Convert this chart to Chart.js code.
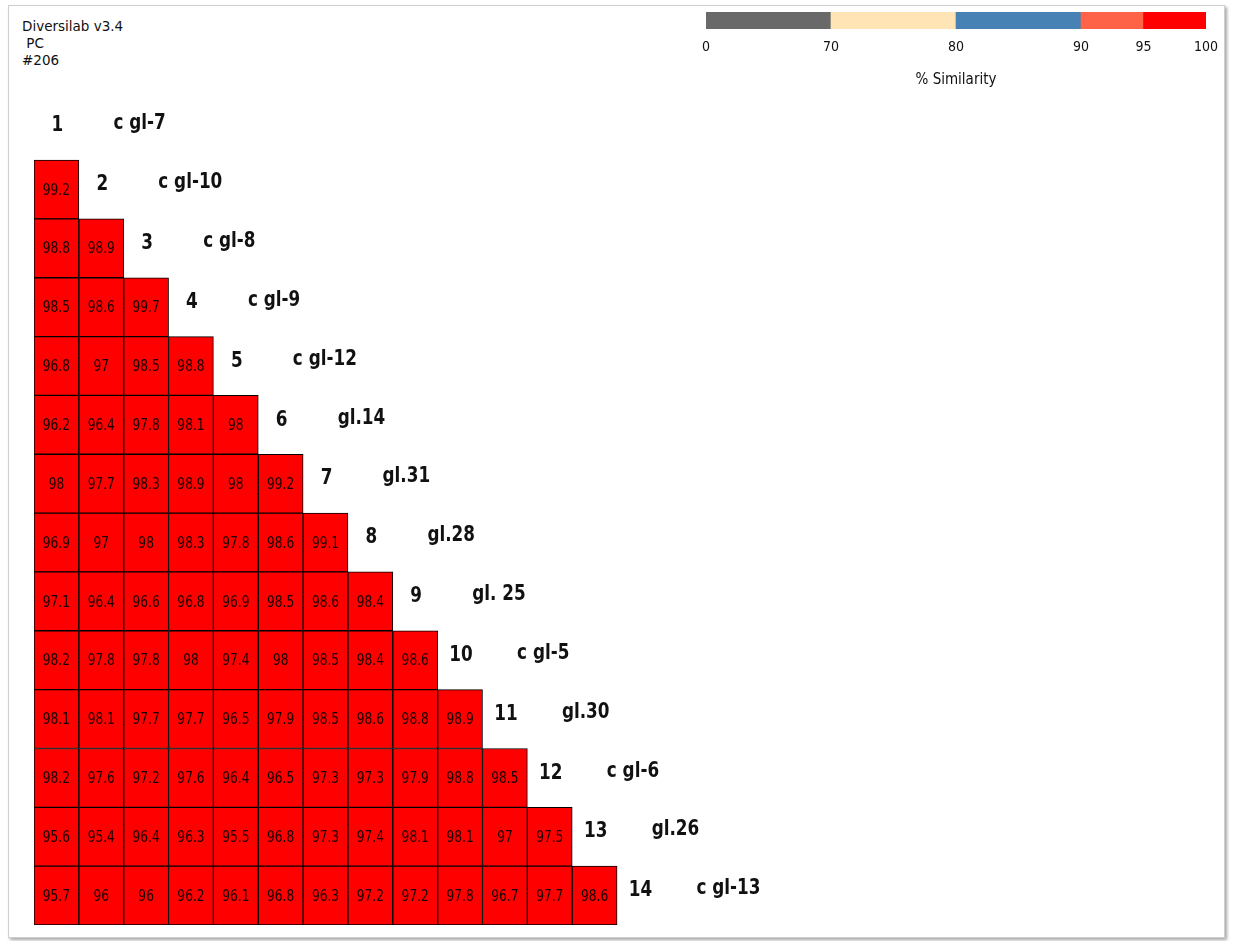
<!DOCTYPE html>
<html>
<head>
<meta charset="utf-8">
<title>Diversilab similarity matrix</title>
<script src="https://cdn.jsdelivr.net/npm/chart.js@4.4.1/dist/chart.umd.min.js"></script>
<style>
  html, body { margin: 0; padding: 0; background: #fff; width: 1237px; height: 941px; overflow: hidden; }
  #frame { position: absolute; left: 8px; top: 5px; width: 1215px; height: 931px;
           border: 1px solid #cfcfcf; box-shadow: 2px 2px 3px rgba(0,0,0,0.35); }
  #info { position: absolute; left: 22px; top: 18px; color: #111;
          font: 13.5px 'DejaVu Sans', sans-serif; line-height: 17px; }
  #matrixCanvas { position: absolute; left: 0; top: 0; }
  #legendCanvas { position: absolute; left: 680px; top: 0; }
</style>
</head>
<body>
<div id="frame"></div>
<div id="info">Diversilab v3.4<br>&nbsp;PC<br>#206</div>
<canvas id="matrixCanvas" width="1237" height="941"></canvas>
<canvas id="legendCanvas" width="557" height="100"></canvas>
<script>
// ---- data ----
const strainNumbers = ['1','2','3','4','5','6','7','8','9','10','11','12','13','14'];
const strainNames = ['c gl-7','c gl-10','c gl-8','c gl-9','c gl-12','gl.14','gl.31','gl.28',
                     'gl. 25','c gl-5','gl.30','c gl-6','gl.26','c gl-13'];

// Lower triangle of pairwise % similarity; entry k of row i compares strain i+2 with strain k+1
const similarity = [
  [99.2],
  [98.8, 98.9],
  [98.5, 98.6, 99.7],
  [96.8, 97, 98.5, 98.8],
  [96.2, 96.4, 97.8, 98.1, 98],
  [98, 97.7, 98.3, 98.9, 98, 99.2],
  [96.9, 97, 98, 98.3, 97.8, 98.6, 99.1],
  [97.1, 96.4, 96.6, 96.8, 96.9, 98.5, 98.6, 98.4],
  [98.2, 97.8, 97.8, 98, 97.4, 98, 98.5, 98.4, 98.6],
  [98.1, 98.1, 97.7, 97.7, 96.5, 97.9, 98.5, 98.6, 98.8, 98.9],
  [98.2, 97.6, 97.2, 97.6, 96.4, 96.5, 97.3, 97.3, 97.9, 98.8, 98.5],
  [95.6, 95.4, 96.4, 96.3, 95.5, 96.8, 97.3, 97.4, 98.1, 98.1, 97, 97.5],
  [95.7, 96, 96, 96.2, 96.1, 96.8, 96.3, 97.2, 97.2, 97.8, 96.7, 97.7, 98.6]
];

// Colour key: band edges and their colours
const legendBreaks = [0, 70, 80, 90, 95, 100];
const legendColors = ['#696969', '#ffe4b5', '#4682b4', '#ff6347', '#ff0000'];

// ---- layout / style ----
const legendSlots = [0, 2, 4, 6, 7, 8];        // evenly spaced key positions for the breaks
const CONDENSED = "'DejaVu Sans Condensed', 'Liberation Sans Narrow', sans-serif";

function bandColor(v) {
  for (let i = legendBreaks.length - 2; i >= 0; i--) {
    if (v >= legendBreaks[i]) return legendColors[i];
  }
  return legendColors[0];
}

// Draw text squeezed horizontally to get a narrow face
function narrowText(ctx, text, x, y, align, squeeze) {
  ctx.save();
  ctx.translate(x, y);
  ctx.scale(squeeze, 1);
  ctx.textAlign = align;
  ctx.fillText(text, 0, 0);
  ctx.restore();
}

// Cells: column = compared strain, row band [r-1, r] on the row axis
const cells = [];
similarity.forEach((row, i) => {
  const r = i + 2;
  row.forEach((v, k) => {
    cells.push({ x: strainNumbers[k], y: [r - 1, r], v: v });
  });
});

const cellLabels = {
  id: 'cellLabels',
  afterDatasetsDraw(chart) {
    const ctx = chart.ctx;
    const meta = chart.getDatasetMeta(0);
    ctx.save();
    ctx.font = '16px ' + CONDENSED;
    ctx.fillStyle = '#1a0000';
    ctx.textBaseline = 'middle';
    meta.data.forEach((el, idx) => {
      const c = el.getCenterPoint();
      narrowText(ctx, String(chart.data.datasets[0].data[idx].v), c.x, c.y + 1, 'center', 0.85);
    });
    ctx.restore();
  }
};

const strainLabels = {
  id: 'strainLabels',
  afterDatasetsDraw(chart) {
    const ctx = chart.ctx;
    const xs = chart.scales.x, ys = chart.scales.y;
    ctx.save();
    ctx.font = 'bold 22px ' + CONDENSED;
    ctx.fillStyle = '#111';
    ctx.textBaseline = 'middle';
    strainNumbers.forEach((num, i) => {
      const cx = xs.getPixelForValue(i);
      const cy = ys.getPixelForValue(i + 0.5);
      narrowText(ctx, num, cx + 1, cy - 5, 'center', 0.85);
      narrowText(ctx, strainNames[i], cx + 57, cy - 7, 'left', 0.85);
    });
    ctx.restore();
  }
};

new Chart(document.getElementById('matrixCanvas'), {
  type: 'bar',
  data: {
    labels: strainNumbers,
    datasets: [{
      data: cells,
      backgroundColor: ctx => bandColor(ctx.raw ? ctx.raw.v : 100),
      borderColor: '#000',
      borderWidth: 1,
      borderSkipped: false,
      barPercentage: 1,
      categoryPercentage: 1
    }]
  },
  options: {
    responsive: false,
    animation: false,
    devicePixelRatio: 1,
    layout: { padding: { left: 34, right: 575.1, top: 101.2, bottom: 16 } },
    plugins: { legend: { display: false }, tooltip: { enabled: false } },
    scales: {
      x: { type: 'category', display: false, offset: true },
      y: { type: 'linear', display: false, min: 0, max: 14, reverse: true }
    }
  },
  plugins: [cellLabels, strainLabels]
});

// Colour key bar with its break labels
new Chart(document.getElementById('legendCanvas'), {
  type: 'bar',
  data: {
    labels: ['key'],
    datasets: [{
      data: legendColors.map((c, i) => ({ x: [legendSlots[i], legendSlots[i + 1]], y: 'key' })),
      backgroundColor: legendColors,
      borderWidth: 0,
      barPercentage: 1,
      categoryPercentage: 1
    }]
  },
  options: {
    indexAxis: 'y',
    responsive: false,
    animation: false,
    devicePixelRatio: 1,
    layout: { padding: { left: 26, right: 31, top: 12, bottom: 0 } },
    plugins: { legend: { display: false }, tooltip: { enabled: false } },
    scales: {
      y: { type: 'category', display: false, offset: true },
      x: {
        type: 'linear', min: 0, max: 8,
        grid: { display: false, drawTicks: false },
        border: { display: false },
        afterBuildTicks: s => { s.ticks = legendSlots.map(v => ({ value: v })); },
        afterFit: s => { s.height = 71; },
        ticks: {
          autoSkip: false, maxRotation: 0, padding: 10,
          color: '#111', font: { family: CONDENSED, size: 14 },
          callback: v => String(legendBreaks[legendSlots.indexOf(v)])
        },
        title: {
          display: true, text: '% Similarity', color: '#111',
          font: { family: CONDENSED, size: 15 },
          padding: { top: 0, bottom: 11 }
        }
      }
    }
  }
});
</script>
</body>
</html>
